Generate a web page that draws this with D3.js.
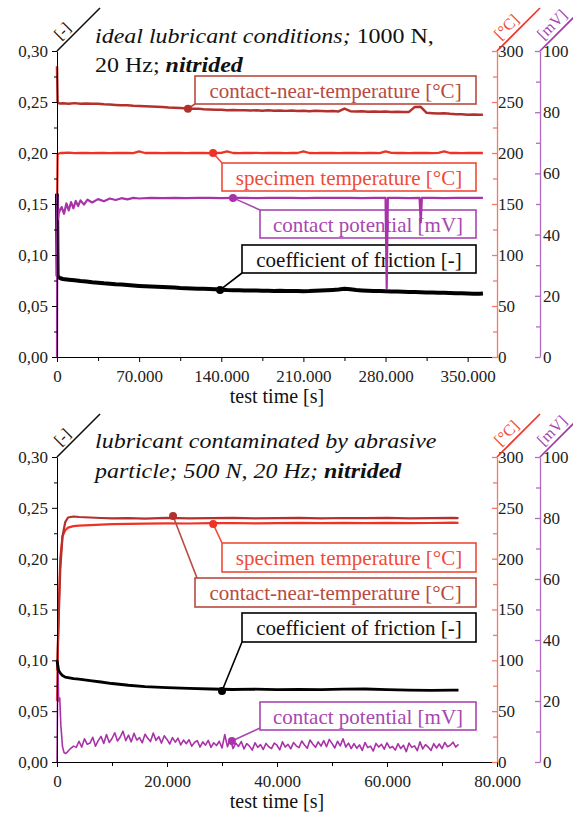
<!DOCTYPE html>
<html>
<head>
<meta charset="utf-8">
<script src="https://d3js.org/d3.v7.min.js"></script>
<style>
body { margin: 0; background: #fff; }
svg text { font-family: "Liberation Serif", Tinos, "Times New Roman", "DejaVu Serif", serif !important; }
</style>
</head>
<body>
<div id="chart"></div>
<script>
// ---------- data ----------
// upper test: ideal lubricant, 1000 N
var topT = [0, 500, 1500, 3000, 5000, 10000, 15000, 20000, 25000, 30000,
  35000, 40000, 45000, 50000, 55000, 60000, 65000, 70000, 75000, 80000,
  85000, 90000, 95000, 100000, 105000, 110000, 115000, 120000, 125000, 130000,
  135000, 140000, 145000, 150000, 155000, 160000, 165000, 170000, 175000, 180000,
  185000, 190000, 195000, 200000, 205000, 210000, 215000, 220000, 225000, 230000,
  235000, 240000, 245000, 250000, 255000, 260000, 265000, 270000, 275000, 280000,
  285000, 290000, 295000, 300000, 305000, 310000, 315000, 320000, 325000, 330000,
  335000, 340000, 345000, 350000, 355000, 360000, 363000];
var topCof = [0.160, 0.080, 0.078, 0.0772, 0.0765, 0.0758, 0.0752, 0.0745, 0.0741, 0.0733,
  0.0728, 0.0722, 0.0719, 0.0713, 0.0710, 0.0705, 0.0701, 0.0697, 0.0694, 0.0692,
  0.0689, 0.0686, 0.0683, 0.0681, 0.0677, 0.0675, 0.0672, 0.0670, 0.0668, 0.0666,
  0.0664, 0.0660, 0.0656, 0.0655, 0.0654, 0.0652, 0.0651, 0.0652, 0.0650, 0.0649,
  0.0648, 0.0650, 0.0647, 0.0646, 0.0648, 0.0645, 0.0646, 0.0649, 0.0652, 0.0655,
  0.0658, 0.0662, 0.0668, 0.0664, 0.0657, 0.0653, 0.0650, 0.0648, 0.0646, 0.0644,
  0.0643, 0.0641, 0.0640, 0.0638, 0.0637, 0.0635, 0.0633, 0.0632, 0.0630, 0.0629,
  0.0627, 0.0626, 0.0624, 0.0623, 0.0621, 0.0620, 0.0622];
var topSpec = [145, 198, 199.5, 200, 200, 200.3, 199.8, 200, 200.2, 199.9,
  200, 200.1, 199.8, 200, 200.2, 200, 199.9, 201.5, 200, 200.1,
  200, 199.8, 200.2, 200, 200.1, 199.9, 200, 200.2, 200, 199.8,
  200, 200.1, 201.5, 200, 199.9, 200.2, 200, 200.1, 199.8, 200,
  200.2, 200, 199.9, 200.1, 200, 201.5, 200, 199.8, 200.2, 200,
  200.1, 199.9, 200, 200.2, 200, 199.8, 200.1, 200, 199.9, 201.5,
  200.1, 200, 200.2, 199.9, 200, 200.1, 200, 199.8, 200.2, 201.5,
  200, 200.1, 199.9, 200, 200.2, 200, 200];
var topNear = [285, 250, 248.8, 248.5, 248.7, 248.3, 248.9, 248.4, 248.6, 248.2,
  248.4, 247.8, 247.5, 247.1, 246.8, 246.9, 246.3, 246.0, 245.8, 245.5,
  245.3, 245.0, 244.6, 244.4, 244.0, 243.7, 243.4, 243.5, 242.8, 242.6,
  242.3, 242.5, 241.9, 242.2, 241.8, 242.0, 241.6, 241.9, 241.5, 241.8,
  241.4, 241.7, 241.3, 241.6, 241.2, 241.5, 241.0, 241.4, 241.1, 240.9,
  241.2, 240.8, 243.5, 241.0, 240.7, 240.9, 240.5, 240.8, 240.4, 240.6,
  240.3, 240.5, 240.1, 240.3, 245.2, 245.3, 239.4, 239.0, 238.7, 238.9,
  238.4, 238.1, 237.9, 237.6, 237.8, 237.4, 237.5];
var topPotT = [0, 300, 800, 1500, 2500, 4000, 6000, 8000, 10000, 12000,
  14000, 16000, 18000, 20000, 23000, 26000, 30000, 35000, 40000, 45000,
  50000, 55000, 60000, 65000, 70000, 80000, 90000, 100000, 110000, 120000,
  130000, 140000, 150000, 160000, 170000, 180000, 190000, 200000, 210000, 220000,
  230000, 240000, 250000, 260000, 270000, 280000, 281000, 282000, 290000, 300000,
  309000, 310000, 311000, 320000, 330000, 340000, 350000, 360000, 363000];
var topPot = [0, 53, 45, 47.0, 48.0, 49.0, 46.8, 50.2, 47.9, 50.6,
  48.6, 51.0, 49.3, 51.2, 49.8, 51.4, 50.5, 51.6, 50.9, 51.8,
  51.3, 51.9, 51.5, 52.0, 51.8, 52.0, 51.9, 52.0, 51.9, 52.0,
  52.0, 51.9, 52.0, 52.0, 51.9, 52.0, 52.0, 52.0, 51.9, 52.0,
  52.0, 52.0, 52.0, 51.9, 52.0, 52.0, 22.5, 52.0, 52.0, 51.9,
  52.0, 44.0, 52.0, 52.0, 51.9, 52.0, 52.0, 52.0, 52.0];

// lower test: contaminated lubricant, 500 N
var botT = [0, 300, 600, 1000, 1500, 2000, 3000, 4000, 6000, 8000,
  10000, 13000, 16000, 20000, 24000, 28000, 32000, 36000, 40000, 44000,
  48000, 52000, 56000, 60000, 64000, 68000, 72000, 73000];
var botCof = [0.100, 0.090, 0.0875, 0.085, 0.0835, 0.083, 0.082, 0.0815, 0.080, 0.0787,
  0.0772, 0.0755, 0.0742, 0.0732, 0.0725, 0.0718, 0.0713, 0.0716, 0.0712, 0.0715,
  0.0711, 0.0716, 0.0718, 0.0711, 0.0707, 0.0705, 0.0706, 0.0707];
var botNear = [90, 140, 190, 222, 236, 240.5, 241.5, 241, 240.5, 240,
  239.6, 239.8, 239.4, 240.2, 239.7, 239.9, 240.1, 239.6, 239.9, 240.2,
  239.7, 240.0, 239.8, 240.1, 239.7, 239.9, 240.2, 239.8];
var botSpec = [60, 150, 200, 222, 228, 230.5, 232, 232.5, 233, 233.5,
  234, 234.3, 234.5, 234.8, 234.6, 234.9, 235.1, 234.8, 235.0, 235.3,
  234.9, 235.2, 235.0, 235.3, 234.9, 235.1, 235.4, 235.2];
var botPotT = [0, 150, 300, 500, 700, 1000, 1300, 1600, 2000, 2500, 3000, 3500,
  4000, 4500, 5000, 5500, 6000, 6500, 7000, 7500, 8000, 8500,
  9000, 9500, 10000, 10500, 11000, 11500, 12000, 12500, 13000, 13500,
  14000, 14500, 15000, 15500, 16000, 16500, 17000, 17500, 18000, 18500,
  19000, 19500, 20000, 20500, 21000, 21500, 22000, 22500, 23000, 23500,
  24000, 24500, 25000, 25500, 26000, 26500, 27000, 27500, 28000, 28500,
  29000, 29500, 30000, 30500, 31000, 31500, 32000, 32500, 33000, 33500,
  34000, 34500, 35000, 35500, 36000, 36500, 37000, 37500, 38000, 38500,
  39000, 39500, 40000, 40500, 41000, 41500, 42000, 42500, 43000, 43500,
  44000, 44500, 45000, 45500, 46000, 46500, 47000, 47500, 48000, 48500,
  49000, 49500, 50000, 50500, 51000, 51500, 52000, 52500, 53000, 53500,
  54000, 54500, 55000, 55500, 56000, 56500, 57000, 57500, 58000, 58500,
  59000, 59500, 60000, 60500, 61000, 61500, 62000, 62500, 63000, 63500,
  64000, 64500, 65000, 65500, 66000, 66500, 67000, 67500, 68000, 68500,
  69000, 69500, 70000, 70500, 71000, 71500, 72000, 72500, 73000];
var botPot = [0, 33, 20, 21, 12, 5, 3, 2.8, 3.5, 4.5, 5.2, 4.8,
  6.8, 4.9, 7.6, 5.8, 6.2, 8.1, 5.2, 7.0, 8.4, 6.1,
  9.0, 6.4, 7.7, 9.6, 6.9, 8.2, 10.1, 7.0, 8.8, 6.6,
  9.4, 7.2, 8.0, 6.3, 9.1, 7.8, 6.7, 9.5, 7.1, 8.3,
  6.2, 8.6, 7.4, 5.9, 8.0, 6.5, 7.8, 5.6, 7.2, 6.0,
  7.3, 5.2, 6.4, 7.0, 4.9, 6.6, 5.5, 7.1, 4.8, 6.3,
  5.4, 6.8, 4.6, 9.0, 5.0, 7.6, 4.4, 6.2, 5.1, 6.7,
  4.3, 6.0, 5.2, 3.9, 6.3, 4.8, 5.7, 4.1, 6.1, 5.0,
  4.4, 6.2, 5.5, 4.0, 6.6, 4.9, 5.8, 4.3, 6.4, 5.3,
  4.7, 6.9, 5.6, 4.5, 7.2, 5.9, 4.8, 6.6, 5.2, 7.0,
  5.0, 7.4, 6.1, 4.6, 6.8, 5.3, 7.6, 4.9, 6.2, 4.4,
  6.0, 4.5, 5.6, 3.8, 6.4, 4.7, 5.2, 3.6, 6.1, 4.9,
  5.8, 4.2, 6.3, 4.6, 5.1, 3.9, 6.0, 4.4, 5.5, 3.4,
  6.2, 4.8, 5.3, 3.7, 6.6, 4.3, 5.7, 4.9, 3.8, 6.0,
  4.6, 5.9, 4.4, 6.4, 5.0, 5.5, 6.5, 4.9, 5.8];

// callout anchors: [near, spec, pot, cof]
var topNoteT = [111600, 133000, 150000, 139000];
var topNoteV = [243.5, 200, 52, 0.0657];
var botNoteT = [21100, 28400, 31800, 30000];
var botNoteV = [242, 234, 6.9, 0.0698];
var noteLabels = ["contact-near-temperature [°C]", "specimen temperature [°C]",
  "contact potential [mV]", "coefficient of friction [-]"];

// ticks
var topXTicks = [0, 70000, 140000, 210000, 280000, 350000];
var topXMinor = [35000, 105000, 175000, 245000, 315000];
var botXTicks = [0, 20000, 40000, 60000, 80000];
var botXMinor = [10000, 30000, 50000, 70000];
var cofTicks = [0, 0.05, 0.10, 0.15, 0.20, 0.25, 0.30];
var cofMinor = [0.025, 0.075, 0.125, 0.175, 0.225, 0.275];
var tempTicks = [0, 50, 100, 150, 200, 250, 300];
var tempMinor = [25, 75, 125, 175, 225, 275];
var potTicks = [0, 20, 40, 60, 80, 100];
var potMinor = [10, 30, 50, 70, 90];

// ---------- drawing ----------
var serif = "'Liberation Serif', Tinos, 'Times New Roman', 'DejaVu Serif', serif";
var colNear = "#b3302c", colNearTxt = "#b84a40";
var colSpec = "#ee3226", colSpecTxt = "#f04a38";
var colPot = "#a833a8", colPotTxt = "#a847b0";
var colCof = "#000";
var colTempAxis = "#f47a66", colPotAxis = "#b36cc6";

var svg = d3.select("#chart").append("svg")
  .attr("width", 573).attr("height", 814)
  .attr("font-family", serif);

var xL = 57, xR = 497, xP = 540;

function fmtX(d) { return d === 0 ? "0" : d3.format(",")(d).replace(/,/g, "."); }
function fmtC(d) { return d3.format(".2f")(d).replace(".", ","); }

function zip(t, v) { return t.map(function (d, i) { return [d, v[i]]; }); }

function drawPanel(p) {
  var g = svg.append("g");
  var x = d3.scaleLinear().domain([0, p.xMax]).range([xL, xR]);
  var yC = d3.scaleLinear().domain([0, 0.30]).range([p.y1, p.y0]);
  var yT = d3.scaleLinear().domain([0, 300]).range([p.y1, p.y0]);
  var yP = d3.scaleLinear().domain([0, 100]).range([p.y1, p.y0]);
  var yOf = { near: yT, spec: yT, pot: yP, cof: yC };
  var keys = ["near", "spec", "pot", "cof"];
  var cols = { near: colNear, spec: colSpec, pot: colPot, cof: colCof };
  var txtCols = { near: colNearTxt, spec: colSpecTxt, pot: colPotTxt, cof: "#111" };

  // callout boxes (under the curves)
  keys.forEach(function (k, i) {
    var b = p.boxes[k];
    g.append("rect").attr("x", b[0]).attr("y", b[1]).attr("width", b[2]).attr("height", b[3])
      .attr("fill", "#fff").attr("stroke", k === "cof" ? "#000" : txtCols[k]).attr("stroke-width", 1.6);
    g.append("text").attr("x", b[0] + b[2] / 2).attr("y", b[1] + b[3] / 2).attr("dy", "0.36em")
      .attr("text-anchor", "middle").style("font-size", "21px").style("font-family", serif)
      .attr("fill", txtCols[k]).text(noteLabels[i]);
  });

  // curves
  p.series.forEach(function (s) {
    g.append("path").datum(zip(s.t, s.v))
      .attr("fill", "none").attr("stroke", cols[s.key]).attr("stroke-width", s.w)
      .attr("stroke-linejoin", "round")
      .attr("d", d3.line().x(function (d) { return x(d[0]); }).y(function (d) { return yOf[s.key](d[1]); }));
  });

  // connectors + dots
  keys.forEach(function (k, i) {
    var cx = x(p.noteT[i]), cy = yOf[k](p.noteV[i]);
    var c = p.corners[k];
    g.append("line").attr("x1", cx).attr("y1", cy).attr("x2", c[0]).attr("y2", c[1])
      .attr("stroke", k === "cof" ? "#000" : txtCols[k]).attr("stroke-width", 1.6);
    g.append("circle").attr("cx", cx).attr("cy", cy).attr("r", 4).attr("fill", cols[k]);
  });

  // axes
  g.append("g").attr("transform", "translate(0," + p.y1 + ")")
    .call(d3.axisBottom(x).tickValues(p.xTicks).tickFormat(fmtX).tickSize(5).tickSizeOuter(0).tickPadding(8));
  g.append("g").attr("transform", "translate(0," + p.y1 + ")")
    .call(d3.axisBottom(x).tickValues(p.xMinor).tickFormat("").tickSize(4)).select(".domain").remove();
  g.append("g").attr("transform", "translate(" + xL + ",0)")
    .call(d3.axisLeft(yC).tickValues(cofTicks).tickFormat(fmtC).tickSize(5).tickSizeOuter(0).tickPadding(4));
  g.append("g").attr("transform", "translate(" + xL + ",0)")
    .call(d3.axisLeft(yC).tickValues(cofMinor).tickFormat("").tickSize(3)).select(".domain").remove();

  g.append("g").attr("class", "tax").attr("transform", "translate(" + xR + ",0)")
    .call(d3.axisRight(yT).tickValues(tempTicks).tickFormat(d3.format("d")).tickSize(-5).tickSizeOuter(0).tickPadding(1));
  g.append("g").attr("class", "tax").attr("transform", "translate(" + xR + ",0)")
    .call(d3.axisRight(yT).tickValues(tempMinor).tickFormat("").tickSize(-4).tickSizeOuter(0))
    .select(".domain").remove();
  g.append("g").attr("class", "pax").attr("transform", "translate(" + xP + ",0)")
    .call(d3.axisRight(yP).tickValues(potTicks).tickFormat(d3.format("d")).tickSize(-5).tickSizeOuter(0).tickPadding(3));
  g.append("g").attr("class", "pax").attr("transform", "translate(" + xP + ",0)")
    .call(d3.axisRight(yP).tickValues(potMinor).tickFormat("").tickSize(-4).tickSizeOuter(0))
    .select(".domain").remove();

  g.selectAll("g").attr("font-family", serif);
  g.selectAll(".tick text").style("font-size", "17px").style("font-family", serif).attr("fill", "#222");
  g.selectAll(".tax path, .tax line").attr("stroke", colTempAxis).attr("stroke-width", 1.3);
  g.selectAll(".pax path, .pax line").attr("stroke", colPotAxis).attr("stroke-width", 1.3);

  // unit labels on diagonal strokes
  var units = [[xL, "[-]", "#111", "#111"], [xR, "[°C]", colSpecTxt, colSpec], [xP, "[mV]", colPotTxt, colPot]];
  units.forEach(function (u) {
    g.append("line").attr("x1", u[0]).attr("y1", p.y0).attr("x2", u[0] + 43).attr("y2", p.y0 - 43)
      .attr("stroke", u[3]).attr("stroke-width", 1.6);
    var px = u[0] + 10 * 0.7071 - 5 * 0.7071, py = p.y0 - 10 * 0.7071 - 5 * 0.7071;
    g.append("text").attr("transform", "translate(" + px + "," + py + ") rotate(-45)")
      .style("font-size", "16px").style("font-family", serif).attr("fill", u[2]).text(u[1]);
  });

  // x title
  g.append("text").attr("x", 277).attr("y", p.xTitleY).attr("text-anchor", "middle")
    .style("font-size", "20px").style("font-family", serif).attr("fill", "#111").text("test time [s]");

  // panel title (the original print is slightly stretched sideways)
  p.title.forEach(function (line, li) {
    var t = g.append("text")
      .attr("transform", "translate(95," + p.titleY[li] + ") scale(1.09,1)")
      .style("font-size", "22px").style("font-family", serif).attr("fill", "#111");
    line.forEach(function (seg) {
      var ts = t.append("tspan").text(seg[0]);
      if (seg[1] !== "normal") ts.style("font-style", "italic");
      if (seg[1] === "bolditalic") ts.style("font-weight", "bold");
    });
  });
}

drawPanel({
  y0: 51, y1: 357, xMax: 375000, xTicks: topXTicks, xMinor: topXMinor, xTitleY: 403,
  titleY: [43, 72],
  title: [[["ideal lubricant conditions;", "italic"], [" 1000 N,", "normal"]],
          [["20 Hz; ", "normal"], ["nitrided", "bolditalic"]]],
  series: [
    { key: "near", t: topT, v: topNear, w: 2.5 },
    { key: "spec", t: topT, v: topSpec, w: 2.3 },
    { key: "cof", t: topT, v: topCof, w: 4 },
    { key: "pot", t: topPotT, v: topPot, w: 2.2 }
  ],
  noteT: topNoteT, noteV: topNoteV,
  boxes: { near: [195, 76, 281, 28], spec: [222, 163, 254, 28], pot: [260, 210, 216, 28], cof: [242, 245, 234, 28] },
  corners: { near: [195, 104], spec: [222, 163], pot: [260, 210], cof: [242, 273] }
});

drawPanel({
  y0: 457, y1: 762, xMax: 80000, xTicks: botXTicks, xMinor: botXMinor, xTitleY: 808,
  titleY: [448, 478],
  title: [[["lubricant contaminated by abrasive", "italic"]],
          [["particle; 500 N, 20 Hz; ", "italic"], ["nitrided", "bolditalic"]]],
  series: [
    { key: "spec", t: botT, v: botSpec, w: 2.2 },
    { key: "near", t: botT, v: botNear, w: 2.2 },
    { key: "pot", t: botPotT, v: botPot, w: 1.6 },
    { key: "cof", t: botT, v: botCof, w: 2.8 }
  ],
  noteT: botNoteT, noteV: botNoteV,
  boxes: { near: [195, 578, 281, 29], spec: [222, 543, 254, 29], pot: [260, 702, 216, 28], cof: [242, 613, 234, 29] },
  corners: { near: [197, 578], spec: [222, 543], pot: [260, 728], cof: [242, 642] }
});
</script>
</body>
</html>
